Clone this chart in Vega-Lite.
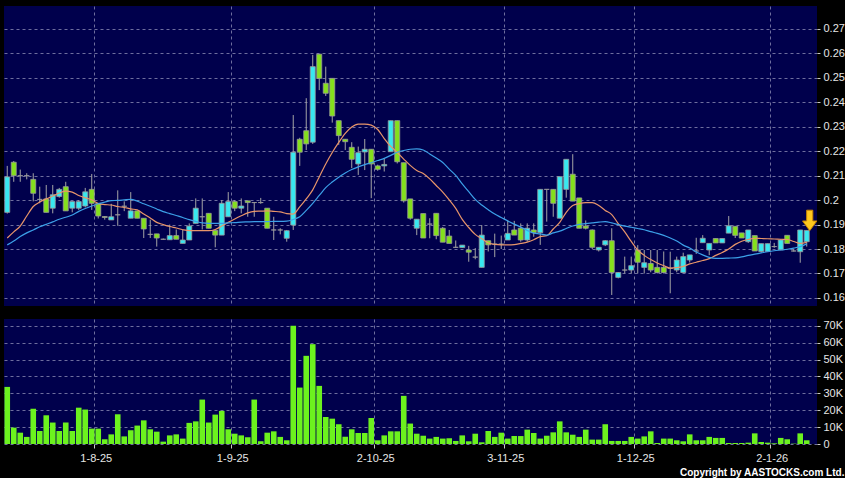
{
"$schema": "https://vega.github.io/schema/vega-lite/v6.json",
"background": "#000000",
"padding": {"left": 4, "top": 6, "right": 0, "bottom": 0},
"config": {
  "view": {"fill": "#00004c", "stroke": null},
  "axis": {"labelColor": "#e6e6e6", "labelFont": "Liberation Sans", "labelFontSize": 11, "tickColor": "#c8c8c8", "domain": false, "gridColor": "#6e6e9e", "gridDash": [3, 3], "gridOpacity": 1, "gridWidth": 1, "title": null, "labelOverlap": false},
  "concat": {"spacing": 13}
},
"title": {"text": "Copyright by AASTOCKS.com Ltd.", "orient": "bottom", "anchor": "end", "color": "#ffffff", "font": "Liberation Sans", "fontSize": 10, "fontWeight": "bold", "offset": 5},
"datasets": {"px": [
{"d":"14-7-25","o":0.1950,"h":0.2140,"l":0.1945,"c":0.2095,"v":33800,"ma10":0.1845,"ma20":0.1817},
{"d":"15-7-25","o":0.2155,"h":0.2160,"l":0.2075,"c":0.2100,"v":9700,"ma10":0.1870,"ma20":0.1833},
{"d":"16-7-25","o":0.2100,"h":0.2125,"l":0.2075,"c":0.2100,"v":6700,"ma10":0.1894,"ma20":0.1851},
{"d":"17-7-25","o":0.2100,"h":0.2110,"l":0.2085,"c":0.2100,"v":4200,"ma10":0.1935,"ma20":0.1866},
{"d":"18-7-25","o":0.2085,"h":0.2110,"l":0.1995,"c":0.2028,"v":20800,"ma10":0.1974,"ma20":0.1878},
{"d":"21-7-25","o":0.2003,"h":0.2055,"l":0.1987,"c":0.2003,"v":7700,"ma10":0.1992,"ma20":0.1891},
{"d":"22-7-25","o":0.2005,"h":0.2062,"l":0.1950,"c":0.1950,"v":17000,"ma10":0.2005,"ma20":0.1901},
{"d":"23-7-25","o":0.1967,"h":0.2062,"l":0.1946,"c":0.2022,"v":12700,"ma10":0.2017,"ma20":0.1911},
{"d":"24-7-25","o":0.2015,"h":0.2050,"l":0.2010,"c":0.2044,"v":7700,"ma10":0.2029,"ma20":0.1922},
{"d":"25-7-25","o":0.2055,"h":0.2075,"l":0.1956,"c":0.1956,"v":12700,"ma10":0.2037,"ma20":0.1930},
{"d":"28-7-25","o":0.1967,"h":0.1994,"l":0.1950,"c":0.1994,"v":7700,"ma10":0.2033,"ma20":0.1939},
{"d":"29-7-25","o":0.1967,"h":0.2000,"l":0.1960,"c":0.1994,"v":21500,"ma10":0.2019,"ma20":0.1954},
{"d":"30-7-25","o":0.1976,"h":0.2050,"l":0.1970,"c":0.2034,"v":20400,"ma10":0.2009,"ma20":0.1966},
{"d":"31-7-25","o":0.2044,"h":0.2107,"l":0.1960,"c":0.1987,"v":9100,"ma10":0.2001,"ma20":0.1976},
{"d":"1-8-25","o":0.1987,"h":0.1987,"l":0.1925,"c":0.1935,"v":9100,"ma10":0.1986,"ma20":0.1985},
{"d":"4-8-25","o":0.1933,"h":0.1935,"l":0.1920,"c":0.1929,"v":2800,"ma10":0.1982,"ma20":0.1992},
{"d":"5-8-25","o":0.1919,"h":0.1985,"l":0.1919,"c":0.1932,"v":5700,"ma10":0.1980,"ma20":0.1998},
{"d":"6-8-25","o":0.1940,"h":0.2040,"l":0.1895,"c":0.1940,"v":17600,"ma10":0.1974,"ma20":0.1999},
{"d":"7-8-25","o":0.1975,"h":0.1995,"l":0.1955,"c":0.1975,"v":4500,"ma10":0.1970,"ma20":0.2001},
{"d":"8-8-25","o":0.1926,"h":0.2033,"l":0.1926,"c":0.1956,"v":8100,"ma10":0.1964,"ma20":0.2003},
{"d":"11-8-25","o":0.1956,"h":0.1956,"l":0.1926,"c":0.1926,"v":10900,"ma10":0.1960,"ma20":0.1996},
{"d":"12-8-25","o":0.1926,"h":0.1926,"l":0.1845,"c":0.1882,"v":14000,"ma10":0.1943,"ma20":0.1985},
{"d":"13-8-25","o":0.1860,"h":0.1920,"l":0.1845,"c":0.1860,"v":8700,"ma10":0.1927,"ma20":0.1975},
{"d":"14-8-25","o":0.1862,"h":0.1862,"l":0.1810,"c":0.1845,"v":7300,"ma10":0.1909,"ma20":0.1964},
{"d":"15-8-25","o":0.1840,"h":0.1843,"l":0.1838,"c":0.1840,"v":1400,"ma10":0.1900,"ma20":0.1953},
{"d":"18-8-25","o":0.1838,"h":0.1900,"l":0.1837,"c":0.1855,"v":5100,"ma10":0.1892,"ma20":0.1945},
{"d":"19-8-25","o":0.1855,"h":0.1880,"l":0.1840,"c":0.1840,"v":5700,"ma10":0.1886,"ma20":0.1937},
{"d":"20-8-25","o":0.1823,"h":0.1878,"l":0.1823,"c":0.1837,"v":3200,"ma10":0.1879,"ma20":0.1929},
{"d":"21-8-25","o":0.1837,"h":0.1905,"l":0.1837,"c":0.1894,"v":12500,"ma10":0.1875,"ma20":0.1920},
{"d":"22-8-25","o":0.1905,"h":0.2007,"l":0.1905,"c":0.1967,"v":13400,"ma10":0.1875,"ma20":0.1913},
{"d":"25-8-25","o":0.1932,"h":0.2007,"l":0.1880,"c":0.1932,"v":26300,"ma10":0.1875,"ma20":0.1907},
{"d":"26-8-25","o":0.1946,"h":0.1946,"l":0.1885,"c":0.1885,"v":12700,"ma10":0.1875,"ma20":0.1905},
{"d":"27-8-25","o":0.1876,"h":0.1876,"l":0.1807,"c":0.1857,"v":17400,"ma10":0.1880,"ma20":0.1905},
{"d":"28-8-25","o":0.1857,"h":0.2000,"l":0.1857,"c":0.1987,"v":19600,"ma10":0.1894,"ma20":0.1905},
{"d":"29-8-25","o":0.1932,"h":0.2033,"l":0.1932,"c":0.1994,"v":8700,"ma10":0.1909,"ma20":0.1907},
{"d":"1-9-25","o":0.1994,"h":0.2000,"l":0.1955,"c":0.1967,"v":6100,"ma10":0.1923,"ma20":0.1908},
{"d":"2-9-25","o":0.1967,"h":0.2007,"l":0.1946,"c":0.1976,"v":5100,"ma10":0.1936,"ma20":0.1910},
{"d":"3-9-25","o":0.1997,"h":0.1998,"l":0.1932,"c":0.1990,"v":4000,"ma10":0.1948,"ma20":0.1911},
{"d":"4-9-25","o":0.1990,"h":0.1992,"l":0.1932,"c":0.1990,"v":26300,"ma10":0.1954,"ma20":0.1912},
{"d":"5-9-25","o":0.1990,"h":0.2009,"l":0.1985,"c":0.1990,"v":1600,"ma10":0.1955,"ma20":0.1912},
{"d":"8-9-25","o":0.1967,"h":0.1967,"l":0.1885,"c":0.1885,"v":6700,"ma10":0.1956,"ma20":0.1912},
{"d":"9-9-25","o":0.1878,"h":0.1932,"l":0.1837,"c":0.1878,"v":7500,"ma10":0.1954,"ma20":0.1913},
{"d":"10-9-25","o":0.1878,"h":0.1885,"l":0.1860,"c":0.1878,"v":4200,"ma10":0.1952,"ma20":0.1913},
{"d":"11-9-25","o":0.1844,"h":0.1878,"l":0.1830,"c":0.1875,"v":2200,"ma10":0.1945,"ma20":0.1914},
{"d":"12-9-25","o":0.1898,"h":0.2348,"l":0.1878,"c":0.2196,"v":70000,"ma10":0.1943,"ma20":0.1921},
{"d":"15-9-25","o":0.2249,"h":0.2255,"l":0.2140,"c":0.2196,"v":33400,"ma10":0.1972,"ma20":0.1932},
{"d":"16-9-25","o":0.2284,"h":0.2417,"l":0.2205,"c":0.2230,"v":52200,"ma10":0.2005,"ma20":0.1958},
{"d":"17-9-25","o":0.2237,"h":0.2594,"l":0.2230,"c":0.2546,"v":59100,"ma10":0.2042,"ma20":0.1987},
{"d":"18-9-25","o":0.2597,"h":0.2597,"l":0.2450,"c":0.2498,"v":34400,"ma10":0.2095,"ma20":0.2019},
{"d":"19-9-25","o":0.2478,"h":0.2546,"l":0.2426,"c":0.2437,"v":16000,"ma10":0.2148,"ma20":0.2051},
{"d":"22-9-25","o":0.2498,"h":0.2498,"l":0.2317,"c":0.2344,"v":15000,"ma10":0.2195,"ma20":0.2074},
{"d":"23-9-25","o":0.2325,"h":0.2325,"l":0.2226,"c":0.2264,"v":11700,"ma10":0.2236,"ma20":0.2094},
{"d":"24-9-25","o":0.2249,"h":0.2250,"l":0.2205,"c":0.2239,"v":4300,"ma10":0.2273,"ma20":0.2111},
{"d":"25-9-25","o":0.2216,"h":0.2237,"l":0.2131,"c":0.2167,"v":8700,"ma10":0.2299,"ma20":0.2125},
{"d":"26-9-25","o":0.2148,"h":0.2219,"l":0.2103,"c":0.2194,"v":6500,"ma10":0.2311,"ma20":0.2136},
{"d":"29-9-25","o":0.2197,"h":0.2250,"l":0.2123,"c":0.2208,"v":6500,"ma10":0.2311,"ma20":0.2145},
{"d":"30-9-25","o":0.2208,"h":0.2208,"l":0.2008,"c":0.2148,"v":15400,"ma10":0.2307,"ma20":0.2153},
{"d":"2-10-25","o":0.2140,"h":0.2145,"l":0.2120,"c":0.2126,"v":2200,"ma10":0.2289,"ma20":0.2162},
{"d":"3-10-25","o":0.2140,"h":0.2171,"l":0.2117,"c":0.2146,"v":5100,"ma10":0.2252,"ma20":0.2171},
{"d":"6-10-25","o":0.2198,"h":0.2325,"l":0.2198,"c":0.2325,"v":7500,"ma10":0.2220,"ma20":0.2183},
{"d":"8-10-25","o":0.2325,"h":0.2325,"l":0.2150,"c":0.2157,"v":7500,"ma10":0.2195,"ma20":0.2196},
{"d":"9-10-25","o":0.2153,"h":0.2153,"l":0.1990,"c":0.1997,"v":28500,"ma10":0.2168,"ma20":0.2203},
{"d":"10-10-25","o":0.2005,"h":0.2005,"l":0.1920,"c":0.1926,"v":12100,"ma10":0.2142,"ma20":0.2208},
{"d":"13-10-25","o":0.1885,"h":0.1922,"l":0.1857,"c":0.1922,"v":6100,"ma10":0.2121,"ma20":0.2210},
{"d":"14-10-25","o":0.1945,"h":0.1945,"l":0.1845,"c":0.1845,"v":4900,"ma10":0.2109,"ma20":0.2205},
{"d":"15-10-25","o":0.1902,"h":0.1926,"l":0.1844,"c":0.1902,"v":3200,"ma10":0.2087,"ma20":0.2189},
{"d":"16-10-25","o":0.1946,"h":0.1946,"l":0.1840,"c":0.1855,"v":4200,"ma10":0.2060,"ma20":0.2172},
{"d":"17-10-25","o":0.1885,"h":0.1890,"l":0.1828,"c":0.1828,"v":3200,"ma10":0.2033,"ma20":0.2154},
{"d":"20-10-25","o":0.1853,"h":0.1878,"l":0.1823,"c":0.1823,"v":3400,"ma10":0.2001,"ma20":0.2127},
{"d":"21-10-25","o":0.1807,"h":0.1835,"l":0.1805,"c":0.1807,"v":1800,"ma10":0.1966,"ma20":0.2101},
{"d":"22-10-25","o":0.1806,"h":0.1816,"l":0.1805,"c":0.1816,"v":5100,"ma10":0.1921,"ma20":0.2066},
{"d":"23-10-25","o":0.1796,"h":0.1813,"l":0.1748,"c":0.1787,"v":1600,"ma10":0.1888,"ma20":0.2035},
{"d":"24-10-25","o":0.1767,"h":0.1804,"l":0.1758,"c":0.1767,"v":6100,"ma10":0.1860,"ma20":0.2003},
{"d":"27-10-25","o":0.1725,"h":0.1898,"l":0.1725,"c":0.1857,"v":1000,"ma10":0.1842,"ma20":0.1980},
{"d":"28-10-25","o":0.1834,"h":0.1834,"l":0.1790,"c":0.1817,"v":7700,"ma10":0.1825,"ma20":0.1961},
{"d":"30-10-25","o":0.1820,"h":0.1863,"l":0.1767,"c":0.1820,"v":4200,"ma10":0.1819,"ma20":0.1943},
{"d":"31-10-25","o":0.1820,"h":0.1855,"l":0.1800,"c":0.1820,"v":6700,"ma10":0.1817,"ma20":0.1929},
{"d":"3-11-25","o":0.1837,"h":0.1919,"l":0.1837,"c":0.1864,"v":3200,"ma10":0.1817,"ma20":0.1915},
{"d":"4-11-25","o":0.1878,"h":0.1915,"l":0.1857,"c":0.1857,"v":4700,"ma10":0.1818,"ma20":0.1902},
{"d":"5-11-25","o":0.1885,"h":0.1905,"l":0.1830,"c":0.1837,"v":4700,"ma10":0.1823,"ma20":0.1890},
{"d":"6-11-25","o":0.1837,"h":0.1905,"l":0.1830,"c":0.1885,"v":8500,"ma10":0.1828,"ma20":0.1876},
{"d":"7-11-25","o":0.1878,"h":0.1905,"l":0.1850,"c":0.1867,"v":6500,"ma10":0.1838,"ma20":0.1865},
{"d":"10-11-25","o":0.1867,"h":0.2044,"l":0.1817,"c":0.2044,"v":3200,"ma10":0.1851,"ma20":0.1862},
{"d":"11-11-25","o":0.2044,"h":0.2044,"l":0.1912,"c":0.2044,"v":4900,"ma10":0.1855,"ma20":0.1857},
{"d":"12-11-25","o":0.2044,"h":0.2044,"l":0.1932,"c":0.1987,"v":6900,"ma10":0.1882,"ma20":0.1866},
{"d":"13-11-25","o":0.1926,"h":0.2096,"l":0.1926,"c":0.2096,"v":13400,"ma10":0.1909,"ma20":0.1873},
{"d":"14-11-25","o":0.2044,"h":0.2167,"l":0.2010,"c":0.2167,"v":6900,"ma10":0.1950,"ma20":0.1884},
{"d":"17-11-25","o":0.2106,"h":0.2188,"l":0.1996,"c":0.1996,"v":5500,"ma10":0.1978,"ma20":0.1894},
{"d":"18-11-25","o":0.2009,"h":0.2009,"l":0.1885,"c":0.1885,"v":4200,"ma10":0.1986,"ma20":0.1901},
{"d":"19-11-25","o":0.1894,"h":0.1917,"l":0.1880,"c":0.1885,"v":8500,"ma10":0.1990,"ma20":0.1904},
{"d":"20-11-25","o":0.1878,"h":0.1880,"l":0.1800,"c":0.1807,"v":2600,"ma10":0.1990,"ma20":0.1907},
{"d":"21-11-25","o":0.1796,"h":0.1808,"l":0.1790,"c":0.1807,"v":2600,"ma10":0.1978,"ma20":0.1910},
{"d":"24-11-25","o":0.1817,"h":0.1836,"l":0.1812,"c":0.1834,"v":11700,"ma10":0.1958,"ma20":0.1912},
{"d":"25-11-25","o":0.1834,"h":0.1885,"l":0.1612,"c":0.1704,"v":1800,"ma10":0.1941,"ma20":0.1907},
{"d":"26-11-25","o":0.1684,"h":0.1706,"l":0.1680,"c":0.1704,"v":1800,"ma10":0.1904,"ma20":0.1900},
{"d":"27-11-25","o":0.1714,"h":0.1769,"l":0.1700,"c":0.1714,"v":1800,"ma10":0.1870,"ma20":0.1894},
{"d":"28-11-25","o":0.1714,"h":0.1769,"l":0.1700,"c":0.1732,"v":4200,"ma10":0.1831,"ma20":0.1889},
{"d":"1-12-25","o":0.1796,"h":0.1816,"l":0.1700,"c":0.1746,"v":3200,"ma10":0.1796,"ma20":0.1884},
{"d":"2-12-25","o":0.1725,"h":0.1796,"l":0.1700,"c":0.1744,"v":4500,"ma10":0.1774,"ma20":0.1879},
{"d":"3-12-25","o":0.1741,"h":0.1796,"l":0.1705,"c":0.1714,"v":7500,"ma10":0.1757,"ma20":0.1871},
{"d":"4-12-25","o":0.1725,"h":0.1796,"l":0.1700,"c":0.1704,"v":600,"ma10":0.1743,"ma20":0.1864},
{"d":"5-12-25","o":0.1725,"h":0.1790,"l":0.1700,"c":0.1704,"v":3200,"ma10":0.1732,"ma20":0.1856},
{"d":"8-12-25","o":0.1721,"h":0.1789,"l":0.1619,"c":0.1721,"v":3200,"ma10":0.1722,"ma20":0.1845},
{"d":"9-12-25","o":0.1714,"h":0.1769,"l":0.1705,"c":0.1755,"v":2200,"ma10":0.1724,"ma20":0.1833},
{"d":"10-12-25","o":0.1704,"h":0.1785,"l":0.1704,"c":0.1769,"v":1600,"ma10":0.1729,"ma20":0.1816},
{"d":"11-12-25","o":0.1755,"h":0.1776,"l":0.1745,"c":0.1776,"v":5700,"ma10":0.1739,"ma20":0.1804},
{"d":"12-12-25","o":0.1792,"h":0.1846,"l":0.1780,"c":0.1792,"v":2200,"ma10":0.1746,"ma20":0.1788},
{"d":"15-12-25","o":0.1826,"h":0.1857,"l":0.1826,"c":0.1844,"v":2200,"ma10":0.1753,"ma20":0.1776},
{"d":"16-12-25","o":0.1796,"h":0.1823,"l":0.1775,"c":0.1823,"v":4200,"ma10":0.1761,"ma20":0.1766},
{"d":"17-12-25","o":0.1843,"h":0.1843,"l":0.1825,"c":0.1825,"v":3600,"ma10":0.1774,"ma20":0.1762},
{"d":"18-12-25","o":0.1825,"h":0.1843,"l":0.1825,"c":0.1843,"v":3600,"ma10":0.1786,"ma20":0.1762},
{"d":"19-12-25","o":0.1865,"h":0.1935,"l":0.1865,"c":0.1895,"v":600,"ma10":0.1800,"ma20":0.1763},
{"d":"22-12-25","o":0.1893,"h":0.1893,"l":0.1845,"c":0.1856,"v":600,"ma10":0.1819,"ma20":0.1764},
{"d":"23-12-25","o":0.1866,"h":0.1866,"l":0.1845,"c":0.1845,"v":600,"ma10":0.1832,"ma20":0.1768},
{"d":"24-12-25","o":0.1830,"h":0.1878,"l":0.1825,"c":0.1878,"v":800,"ma10":0.1839,"ma20":0.1774},
{"d":"29-12-25","o":0.1855,"h":0.1855,"l":0.1792,"c":0.1792,"v":6300,"ma10":0.1844,"ma20":0.1779},
{"d":"30-12-25","o":0.1790,"h":0.1822,"l":0.1785,"c":0.1822,"v":1200,"ma10":0.1843,"ma20":0.1784},
{"d":"31-12-25","o":0.1790,"h":0.1822,"l":0.1790,"c":0.1822,"v":800,"ma10":0.1842,"ma20":0.1789},
{"d":"2-1-26","o":0.1810,"h":0.1825,"l":0.1805,"c":0.1810,"v":400,"ma10":0.1841,"ma20":0.1793},
{"d":"5-1-26","o":0.1797,"h":0.1840,"l":0.1795,"c":0.1837,"v":3600,"ma10":0.1840,"ma20":0.1796},
{"d":"6-1-26","o":0.1856,"h":0.1856,"l":0.1823,"c":0.1823,"v":2800,"ma10":0.1839,"ma20":0.1799},
{"d":"7-1-26","o":0.1792,"h":0.1800,"l":0.1790,"c":0.1792,"v":200,"ma10":0.1831,"ma20":0.1804},
{"d":"8-1-26","o":0.1789,"h":0.1878,"l":0.1744,"c":0.1878,"v":6300,"ma10":0.1823,"ma20":0.1810},
{"d":"9-1-26","o":0.1830,"h":0.1876,"l":0.1810,"c":0.1876,"v":2200,"ma10":0.1827,"ma20":0.1821}
]},
"data": {"name": "px"},
"vconcat": [
  {
    "width": 813,
    "height": 300,
    "encoding": {
      "x": {"field": "d", "type": "ordinal", "sort": null,
            "scale": {"type": "band", "paddingInner": 0, "paddingOuter": 0.54, "align": 0},
            "axis": {"values": ["1-8-25", "1-9-25", "2-10-25", "3-11-25", "1-12-25", "2-1-26"], "labels": false, "ticks": false, "grid": true, "bandPosition": 0, "title": null}}
    },
    "layer": [
      {"mark": {"type": "rule", "color": "#a4a4a4", "strokeWidth": 1},
       "encoding": {
         "y": {"field": "l", "type": "quantitative",
               "scale": {"domain": [0.1567, 0.2794], "nice": false, "zero": false},
               "axis": {"orient": "right", "values": [0.16, 0.17, 0.18, 0.19, 0.2, 0.21, 0.22, 0.23, 0.24, 0.25, 0.26, 0.27], "format": ".2~f", "grid": true, "tickSize": 3, "labelPadding": 3, "labelOverlap": false, "tickCount": 12, "title": null}},
         "y2": {"field": "h"}}},
      {"mark": {"type": "bar", "width": 5, "stroke": "#9a9a9a", "strokeWidth": 0.8},
       "encoding": {
         "y": {"field": "o", "type": "quantitative",
               "axis": {"orient": "right", "values": [0.16, 0.17, 0.18, 0.19, 0.2, 0.21, 0.22, 0.23, 0.24, 0.25, 0.26, 0.27], "format": ".2~f", "grid": true, "tickSize": 3, "labelPadding": 3, "labelOverlap": false, "tickCount": 12, "title": null}},
         "y2": {"field": "c"},
         "fill": {"condition": [{"test": "datum.c > datum.o", "value": "#38e8f0"}, {"test": "datum.c < datum.o", "value": "#84e01c"}], "value": "#a8a8a8"}}},
      {"mark": {"type": "line", "color": "#e8956a", "strokeWidth": 1.2, "interpolate": "monotone"},
       "encoding": {"y": {"field": "ma10", "type": "quantitative",
               "axis": {"orient": "right", "values": [0.16, 0.17, 0.18, 0.19, 0.2, 0.21, 0.22, 0.23, 0.24, 0.25, 0.26, 0.27], "format": ".2~f", "grid": true, "tickSize": 3, "labelPadding": 3, "labelOverlap": false, "tickCount": 12, "title": null}}}},
      {"mark": {"type": "line", "color": "#3ca0e8", "strokeWidth": 1.2, "interpolate": "monotone"},
       "encoding": {"y": {"field": "ma20", "type": "quantitative",
               "axis": {"orient": "right", "values": [0.16, 0.17, 0.18, 0.19, 0.2, 0.21, 0.22, 0.23, 0.24, 0.25, 0.26, 0.27], "format": ".2~f", "grid": true, "tickSize": 3, "labelPadding": 3, "labelOverlap": false, "tickCount": 12, "title": null}}}},
      {"transform": [{"filter": "datum.d == '9-1-26'"}],
       "mark": {"type": "point", "shape": "M-0.3,-1L0.3,-1L0.3,0.05L0.7,0.05L0,1L-0.7,0.05L-0.3,0.05Z", "size": 420, "filled": true, "fill": "#ffc81e", "stroke": "#c88400", "strokeWidth": 1, "opacity": 1, "yOffset": -10, "xOffset": 3},
       "encoding": {"y": {"field": "h", "type": "quantitative",
               "axis": {"orient": "right", "values": [0.16, 0.17, 0.18, 0.19, 0.2, 0.21, 0.22, 0.23, 0.24, 0.25, 0.26, 0.27], "format": ".2~f", "grid": true, "tickSize": 3, "labelPadding": 3, "labelOverlap": false, "tickCount": 12, "title": null}}}}
    ]
  },
  {
    "width": 813,
    "height": 125,
    "mark": {"type": "bar", "width": 5.6, "color": "#6cf21e"},
    "encoding": {
      "x": {"field": "d", "type": "ordinal", "sort": null,
            "scale": {"type": "band", "paddingInner": 0, "paddingOuter": 0.54, "align": 0},
            "axis": {"values": ["1-8-25", "1-9-25", "2-10-25", "3-11-25", "1-12-25", "2-1-26"], "labelAngle": 0, "tickSize": 4, "labelPadding": 4, "labelOffset": -2, "grid": true, "bandPosition": 0, "title": null}},
      "y": {"field": "v", "type": "quantitative",
            "scale": {"domain": [0, 74000], "nice": false},
            "axis": {"orient": "right", "values": [0, 10000, 20000, 30000, 40000, 50000, 60000, 70000], "labelExpr": "datum.value == 0 ? '0' : (datum.value / 1000) + 'K'", "grid": true, "tickSize": 3, "labelPadding": 3, "labelOverlap": false, "title": null}}
    }
  }
]
}
